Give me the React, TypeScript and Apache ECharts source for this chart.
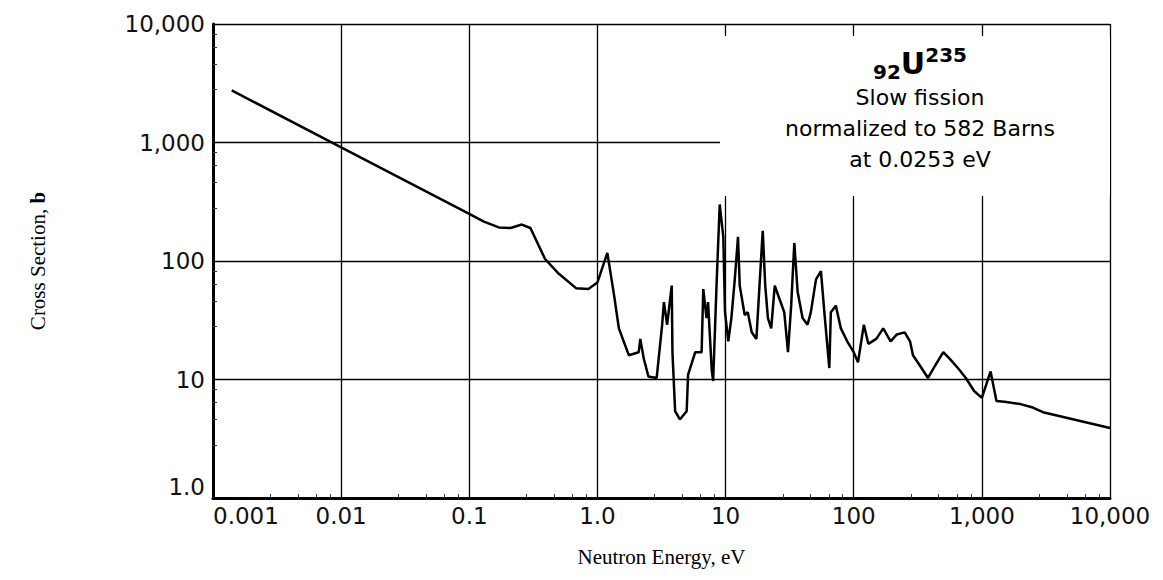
import * as echarts from 'echarts'
import { useEffect, useRef } from 'react'

// neutron energy (eV) and fission cross section (barns)
const energy = [
  0.0014, 0.01, 0.1, 0.13, 0.17, 0.21, 0.257, 0.3, 0.39, 0.5, 0.68, 0.85, 1.0, 1.195, 1.35, 1.47,
  1.76, 2.1, 2.16, 2.3, 2.5, 2.9, 3.2, 3.3, 3.5, 3.8, 3.85, 4.04, 4.4, 4.97, 5.1, 5.8, 6.5, 6.7,
  7.1, 7.3, 7.8, 8.0, 8.5, 9.0, 9.6, 9.9, 10.5, 11.1, 11.8, 12.5, 12.9, 14.1, 14.9, 16.0, 17.4,
  18.4, 19.5, 20.4, 21.4, 22.7, 24.2, 26.3, 28.7, 30.7, 32.5, 34.4, 36.5, 39.9, 43.6, 46.3, 50.8,
  55.5, 59, 64.5, 66.3, 72.5, 79.4, 89, 100, 108, 120, 130, 150, 170, 194, 217, 250, 275, 290,
  330, 380, 430, 500, 560, 650, 750, 870, 1000, 1170, 1300, 1500, 2000, 2500, 3000, 10000,
]
const sigma = [
  2750, 910, 250, 215, 192, 190, 203, 190, 104, 78, 59, 58, 66, 117, 51, 27,
  16, 17, 22, 15, 10.6, 10.3, 29, 45, 29, 62, 17, 5.4, 4.6, 5.4, 11, 17, 17, 58,
  33, 45, 12, 9.7, 62, 300, 160, 37, 21, 33, 70, 160, 62, 35, 37, 25, 22,
  62, 180, 62, 33, 27, 62, 48, 37, 17, 42, 142, 55, 33, 29, 37, 70,
  82, 37, 12.5, 37, 42, 27, 21, 17, 14, 29, 20, 22, 27, 21, 24, 25, 21, 16,
  13, 10.3, 13, 17, 15, 12.5, 10.3, 8, 7, 11.7, 6.6, 6.5, 6.2, 5.8, 5.3, 3.9,
]
const xTicks: Record<string, string> = {
  '0.001': '0.001', '0.01': '0.01', '0.1': '0.1', '1': '1.0', '10': '10',
  '100': '100', '1000': '1,000', '10000': '10,000',
}
const yTicks: Record<string, string> = {
  '1': '{m|1.0}', '10': '10', '100': '100', '1000': '1,000', '10000': '10,000',
}

const App = () => {
  const chartRef = useRef<HTMLDivElement | null>(null)
  useEffect(() => {
    if (!chartRef.current) return
    const chart = echarts.init(chartRef.current, null, { renderer: 'svg' })
    const tickFont = { color: '#111', fontSize: 23, fontFamily: 'DejaVu Sans' }
    chart.setOption({
      animation: false,
      grid: { left: 205, right: 45, top: 16, bottom: 67 },
      xAxis: {
        type: 'log', logBase: 10, min: 0.001, max: 10000,
        name: 'Neutron Energy, eV', nameLocation: 'middle', nameGap: 48,
        nameTextStyle: { fontFamily: 'Liberation Serif', fontSize: 21, color: '#000' },
        axisLine: { lineStyle: { color: '#000', width: 3 } },
        axisTick: { show: true, inside: true, length: 6, lineStyle: { color: '#000' } },
        minorTick: { show: true, length: 4, lineStyle: { color: '#333' } },
        axisLabel: {
          ...tickFont, margin: 6, alignMinLabel: 'left',
          formatter: (v: number) => xTicks[String(v)] ?? '',
        },
        splitLine: { show: true, lineStyle: { color: '#000', width: 1.3 } },
      },
      yAxis: {
        type: 'log', logBase: 10, min: 1, max: 10000,
        name: '{a|Cross Section, }{b|b}', nameLocation: 'middle', nameGap: 165,
        nameTextStyle: {
          rich: {
            a: { fontFamily: 'Liberation Serif', fontSize: 21, color: '#000' },
            b: { fontFamily: 'Liberation Serif', fontSize: 21, fontWeight: 'bold', color: '#000' },
          },
        },
        axisLine: { lineStyle: { color: '#000', width: 3 } },
        axisTick: { show: true, inside: true, length: 6, lineStyle: { color: '#000' } },
        minorTick: { show: true, length: 4, lineStyle: { color: '#333' } },
        axisLabel: {
          ...tickFont, margin: 8,
          formatter: (v: number) => yTicks[String(v)] ?? '',
          rich: { m: { ...tickFont, padding: [0, 0, 22, 0] } },
        },
        splitLine: { show: true, lineStyle: { color: '#000', width: 1.3 } },
      },
      graphic: [
        {
          type: 'rect', shape: { x: 712, y: 28, width: 390, height: 160 },
          style: { fill: '#fff' }, z: 10,
        },
        {
          type: 'text', x: 912, y: 36, z: 11,
          style: {
            text: '{s|92}{u|U}{p|235}', align: 'center',
            rich: {
              s: { fontSize: 20, fontWeight: 'bold', fontFamily: 'DejaVu Sans', padding: [18, 0, 0, 0] },
              u: { fontSize: 30, fontWeight: 'bold', fontFamily: 'DejaVu Sans' },
              p: { fontSize: 20, fontWeight: 'bold', fontFamily: 'DejaVu Sans', padding: [0, 0, 16, 0] },
            },
          },
        },
        {
          type: 'text', x: 912, y: 74, z: 11,
          style: {
            text: 'Slow fission\nnormalized to 582 Barns\nat 0.0253 eV', align: 'center',
            fontSize: 22, lineHeight: 31, fontFamily: 'DejaVu Sans', fill: '#000',
          },
        },
      ],
      series: [
        {
          type: 'line', showSymbol: false,
          data: energy.map((e, i) => [e, sigma[i]]),
          lineStyle: { color: '#000', width: 2.5 },
        },
      ],
    })
    return () => {
      chart.dispose()
    }
  }, [])
  return <div ref={chartRef} style={{ width: '1147px', height: '564px' }}></div>
}
export default App
